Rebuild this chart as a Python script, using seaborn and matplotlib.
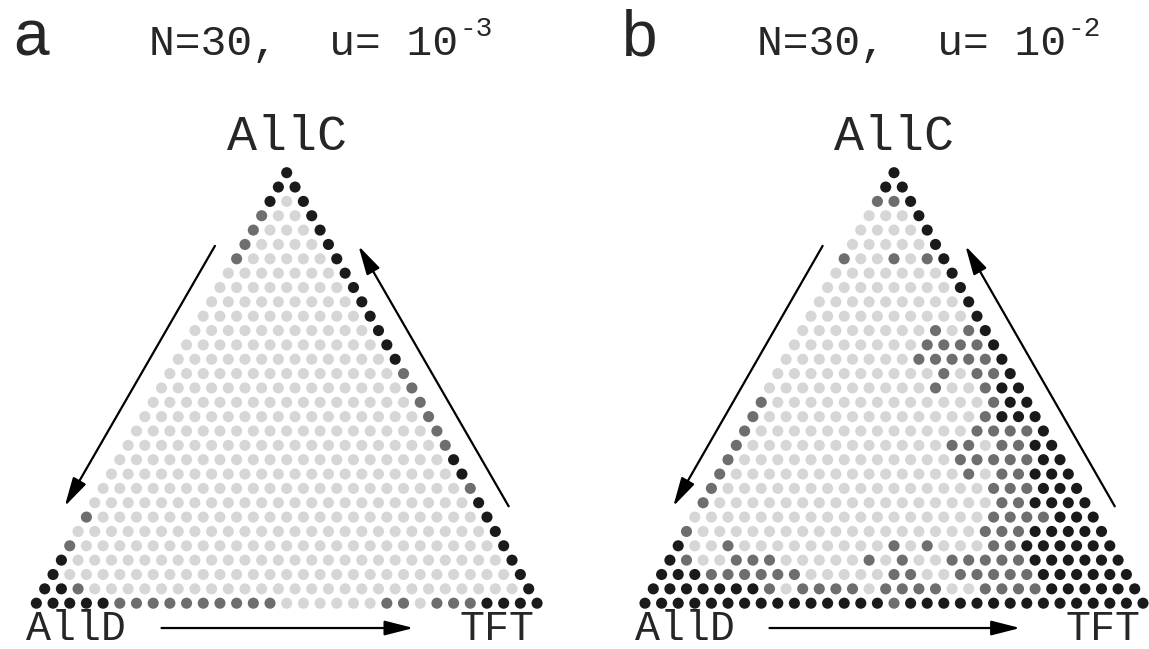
import numpy as np
import pandas as pd
import matplotlib
matplotlib.use("Agg")
import matplotlib.pyplot as plt
import seaborn as sns

N = 30

# shade of every population state (i AllC, j TFT, rest AllD), one string per row,
# row 0 = AllC corner, row 30 = AllD..TFT edge; 0 = light, 1 = mid gray, 2 = dark
grid_a = [
    "2",
    "22",
    "202",
    "1002",
    "10002",
    "100002",
    "1000002",
    "00000002",
    "000000002",
    "0000000002",
    "00000000002",
    "000000000002",
    "0000000000002",
    "00000000000002",
    "000000000000001",
    "0000000000000001",
    "00000000000000001",
    "000000000000000001",
    "0000000000000000001",
    "00000000000000000001",
    "000000000000000000002",
    "0000000000000000000002",
    "00000000000000000000001",
    "000000000000000000000002",
    "1000000000000000000000002",
    "00000000000000000000000002",
    "100000000000000000000000002",
    "2000000000000000000000000002",
    "20000000000000000000000000002",
    "221000000000000000000000000002",
    "2222211111111110000001101112222",
]

grid_b = [
    "2",
    "22",
    "112",
    "0002",
    "00002",
    "000002",
    "1001012",
    "00000002",
    "000000002",
    "0000000002",
    "00000000002",
    "000000001012",
    "0000000011112",
    "00000000111112",
    "000000000010112",
    "0000000000100122",
    "10000000000000122",
    "100000000000001222",
    "1000000000000011112",
    "10000000000001101122",
    "100000000000001111122",
    "1000000000000001011222",
    "10000000000000000111222",
    "100000000000000000112222",
    "0000000000000000001111222",
    "10000000000000000011122222",
    "200100000000010100011222222",
    "2100111000001010011111222222",
    "22211111100000110011111222222",
    "222222210111101111001111222222",
    "2222222222222221222222222222222",
]

grids = [grid_a, grid_b]
panel_letters = ["a", "b"]
titles = ["N=30,  u= 10", "N=30,  u= 10"]
exponents = ["-3", "-2"]
corner_labels = ["AllC", "AllD", "TFT"]

shades = {0: "#d6d6d6", 1: "#6e6e6e", 2: "#1a1a1a"}

# pixel layout of the two lattices
apex_px = [(286.7, 172.7), (894.0, 172.7)]
step_x = [16.69, 16.6]
step_y = 14.35
W, H = 1149, 649


def lattice_frame(grid):
    rows = []
    for r, line in enumerate(grid):
        for j, ch in enumerate(line):
            rows.append({"u": j - r / 2, "v": N - r, "level": int(ch)})
    return pd.DataFrame(rows)


sns.set_style("white")
fig = plt.figure(figsize=(W / 100, H / 100), dpi=100)

mono = "Liberation Mono"
arrow = dict(arrowstyle="-|>,head_length=1.1,head_width=0.28",
             color="black", lw=1.6, mutation_scale=16, shrinkA=0, shrinkB=0)

for k in range(2):
    ax = fig.add_axes([k * 0.5, 0, 0.5, 1])
    ax_x0 = k * W / 2
    ax0, ay0 = apex_px[k]
    bottom_px = ay0 + N * step_y
    ax.set_xlim((ax_x0 - ax0) / step_x[k], (ax_x0 + W / 2 - ax0) / step_x[k])
    ax.set_ylim((bottom_px - H) / step_y, bottom_px / step_y)
    ax.axis("off")

    df = lattice_frame(grids[k])
    sns.scatterplot(data=df, x="u", y="v", hue="level", palette=shades,
                    s=64, linewidth=0, legend=False, ax=ax)

    # flow arrows along the three edges
    ax.annotate("", xy=(-13.3, 6.75), xytext=(-4.3, 24.9), arrowprops=arrow)
    ax.annotate("", xy=(4.3, 24.9), xytext=(13.3, 6.75), arrowprops=arrow)
    ax.annotate("", xy=(7.6, -1.73), xytext=(-7.5, -1.73), arrowprops=arrow)

    ax.text(-16.4, 38.2, panel_letters[k], fontsize=46,
            family="Liberation Sans", ha="left", va="baseline")
    t = ax.text(-8.25, 38.2, titles[k], fontsize=31, family=mono,
                ha="left", va="baseline")
    ax.annotate(exponents[k], xy=(1, 1), xycoords=t, xytext=(1, 6),
                textcoords="offset points", fontsize=20, family=mono,
                ha="left", va="top")

    ax.text(0, 31.6, corner_labels[0], fontsize=36, family=mono,
            ha="center", va="baseline")
    ax.text(-12.6, -3.17, corner_labels[1], fontsize=30, family=mono,
            ha="center", va="bottom")
    ax.text(12.6, -3.17, corner_labels[2], fontsize=30, family=mono,
            ha="center", va="bottom")

fig.savefig("out.png", dpi=100)
